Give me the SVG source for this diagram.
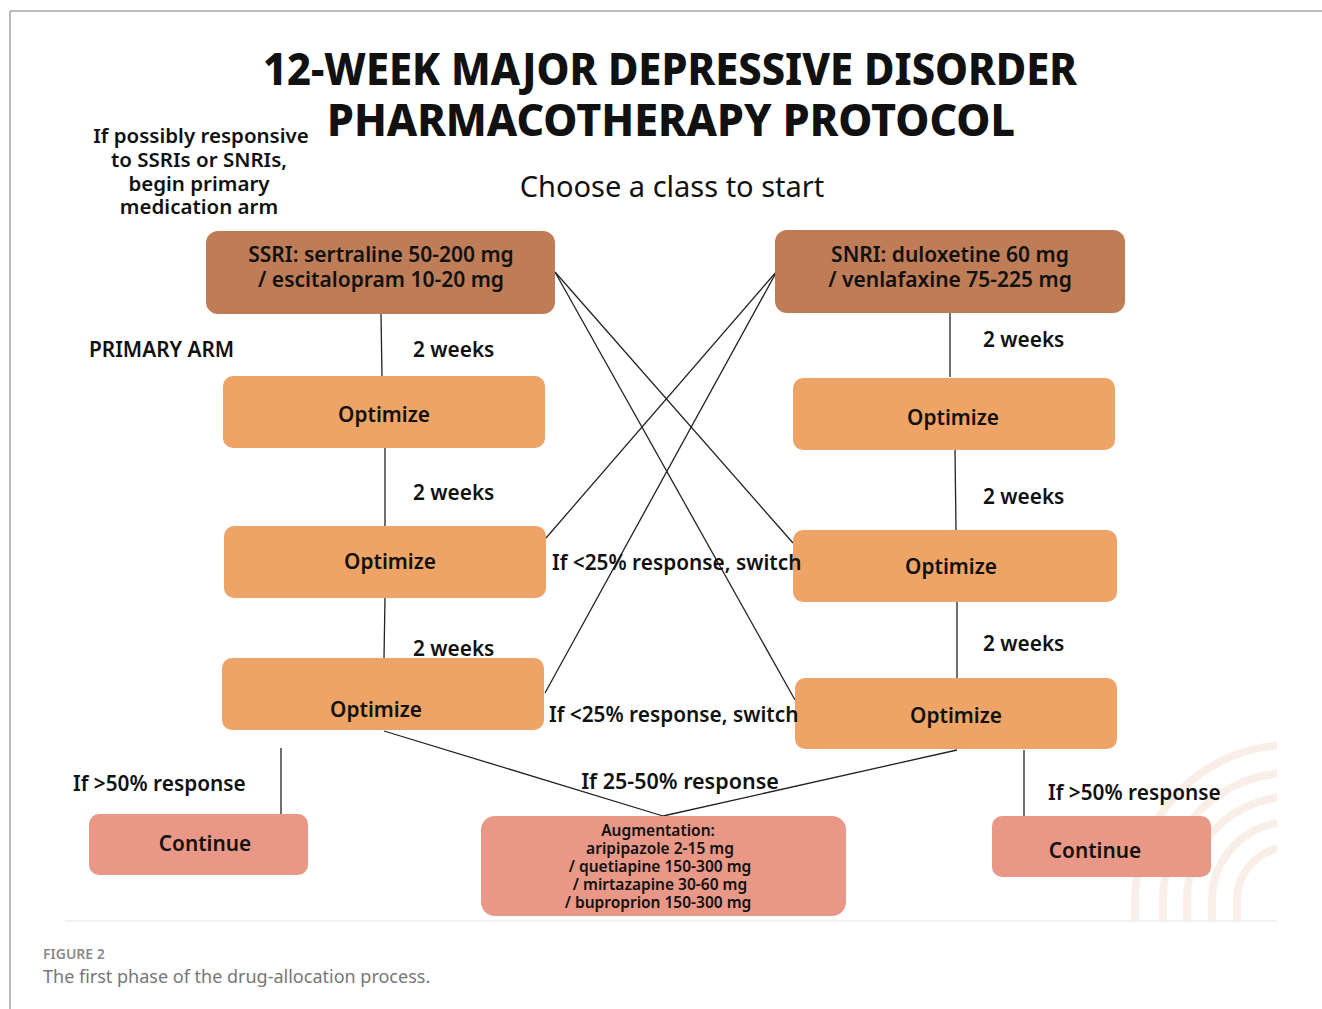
<svg xmlns="http://www.w3.org/2000/svg" width="1322" height="1009" viewBox="0 0 1322 1009">
<style>
text{font-family:"Noto Sans","Liberation Sans",sans-serif;fill:#111;}
.t{font-weight:800;font-size:44px;text-anchor:middle;}
.b{font-weight:600;font-size:20.8px;}
.c{text-anchor:middle;}
.n{font-weight:600;font-size:21px;text-anchor:middle;}
.aug{font-weight:600;font-size:15.5px;text-anchor:middle;}
.cls{fill:#be7c57;}
.opt{fill:#eda466;}
.end{fill:#e99787;}
.ln{stroke:#222;stroke-width:1.3;fill:none;}
.arc{stroke:#faefe8;stroke-width:8;fill:none;}
</style>
<defs><clipPath id="cp"><rect x="1100" y="700" width="177" height="221"/></clipPath></defs>
<rect width="1322" height="1009" fill="#fff"/>
<line x1="10" y1="11" x2="1322" y2="11" stroke="#bbb" stroke-width="2"/>
<line x1="10" y1="11" x2="10" y2="1009" stroke="#bbb" stroke-width="2"/>
<g clip-path="url(#cp)">
<path class="arc" d="M1135,921 V900 A155,155 0 0 1 1290,745"/>
<path class="arc" d="M1163,921 V900 A127,127 0 0 1 1290,773"/>
<path class="arc" d="M1187,921 V900 A103,103 0 0 1 1290,797"/>
<path class="arc" d="M1212,921 V900 A78,78 0 0 1 1290,822"/>
<path class="arc" d="M1237,921 V900 A53,53 0 0 1 1290,847"/>
</g>
<line x1="65" y1="921" x2="1277" y2="921" stroke="#eee" stroke-width="1.5"/>

<text class="t" x="670" y="85" textLength="814" lengthAdjust="spacingAndGlyphs">12-WEEK MAJOR DEPRESSIVE DISORDER</text>
<text class="t" x="671" y="136" textLength="688" lengthAdjust="spacingAndGlyphs">PHARMACOTHERAPY PROTOCOL</text>
<g id="note">
<text class="b c" x="201" y="143" style="font-size:20.5px">If possibly responsive</text>
<text class="b c" x="199" y="167" style="font-size:20.5px">to SSRIs or SNRIs,</text>
<text class="b c" x="199" y="191" style="font-size:20.5px">begin primary</text>
<text class="b c" x="199" y="214" style="font-size:20.5px">medication arm</text>
</g>
<text x="672" y="197" font-size="29" text-anchor="middle">Choose a class to start</text>
<text class="b" x="89" y="357">PRIMARY ARM</text>

<g id="connectors">
<line class="ln" x1="381" y1="314" x2="382" y2="376"/>
<line class="ln" x1="385" y1="448" x2="385" y2="526"/>
<line class="ln" x1="385" y1="598" x2="384" y2="658"/>
<line class="ln" x1="281" y1="748" x2="281" y2="814"/>
<line class="ln" x1="950" y1="313" x2="950" y2="377"/>
<line class="ln" x1="955" y1="450" x2="956" y2="530"/>
<line class="ln" x1="957" y1="602" x2="957" y2="678"/>
<line class="ln" x1="1024" y1="750" x2="1024" y2="816"/>
<line class="ln" x1="555" y1="272" x2="793" y2="543"/>
<line class="ln" x1="555" y1="272" x2="795" y2="700"/>
<line class="ln" x1="777" y1="271" x2="546" y2="538"/>
<line class="ln" x1="777" y1="271" x2="545" y2="693"/>
<line class="ln" x1="384" y1="731" x2="663" y2="816"/>
<line class="ln" x1="957" y1="750" x2="663" y2="816"/>
</g>

<g id="ssri"><rect class="cls" x="206" y="231" width="349" height="83" rx="12"/>
<text class="n" x="381" y="262">SSRI: sertraline 50-200 mg</text>
<text class="n" x="381" y="287">/ escitalopram 10-20 mg</text></g>
<g id="snri"><rect class="cls" x="775" y="230" width="350" height="83" rx="12"/>
<text class="n" x="950" y="262">SNRI: duloxetine 60 mg</text>
<text class="n" x="950" y="287">/ venlafaxine 75-225 mg</text></g>

<g id="optL1"><rect class="opt" x="223" y="376" width="322" height="72" rx="10"/><text class="b c" x="384" y="422">Optimize</text></g>
<g id="optL2"><rect class="opt" x="224" y="526" width="322" height="72" rx="10"/><text class="b c" x="390" y="569">Optimize</text></g>
<g id="optL3"><rect class="opt" x="222" y="658" width="322" height="72" rx="10"/><text class="b c" x="376" y="717">Optimize</text></g>
<g id="optR1"><rect class="opt" x="793" y="378" width="322" height="72" rx="10"/><text class="b c" x="953" y="425">Optimize</text></g>
<g id="optR2"><rect class="opt" x="793" y="530" width="324" height="72" rx="10"/><text class="b c" x="951" y="574">Optimize</text></g>
<g id="optR3"><rect class="opt" x="795" y="678" width="322" height="71" rx="10"/><text class="b c" x="956" y="723">Optimize</text></g>

<g id="contL"><rect class="end" x="89" y="814" width="219" height="61" rx="10"/><text class="b c" x="205" y="851">Continue</text></g>
<g id="contR"><rect class="end" x="992" y="816" width="219" height="61" rx="10"/><text class="b c" x="1095" y="858">Continue</text></g>
<g id="aug"><rect class="end" x="481" y="816" width="365" height="100" rx="14"/>
<text class="aug" x="658" y="836">Augmentation:</text>
<text class="aug" x="660" y="854">aripipazole 2-15 mg</text>
<text class="aug" x="660" y="872">/ quetiapine 150-300 mg</text>
<text class="aug" x="660" y="890">/ mirtazapine 30-60 mg</text>
<text class="aug" x="658" y="908">/ buproprion 150-300 mg</text></g>

<g id="labels">
<text class="b" x="413" y="357">2 weeks</text>
<text class="b" x="413" y="500">2 weeks</text>
<text class="b" x="413" y="656">2 weeks</text>
<text class="b" x="983" y="347">2 weeks</text>
<text class="b" x="983" y="504">2 weeks</text>
<text class="b" x="983" y="651">2 weeks</text>
<text class="b" x="552" y="570">If &lt;25% response, switch</text>
<text class="b" x="549" y="722">If &lt;25% response, switch</text>
<text class="b" x="73" y="791">If &gt;50% response</text>
<text class="b" x="1048" y="800">If &gt;50% response</text>
<text class="b c" x="680" y="789" style="font-size:21.5px">If 25-50% response</text>
</g>

<text x="43" y="959" font-size="14" font-weight="600" style="fill:#8a8a8a">FIGURE 2</text>
<text x="43" y="983" font-size="18" style="fill:#777">The first phase of the drug-allocation process.</text>
</svg>
